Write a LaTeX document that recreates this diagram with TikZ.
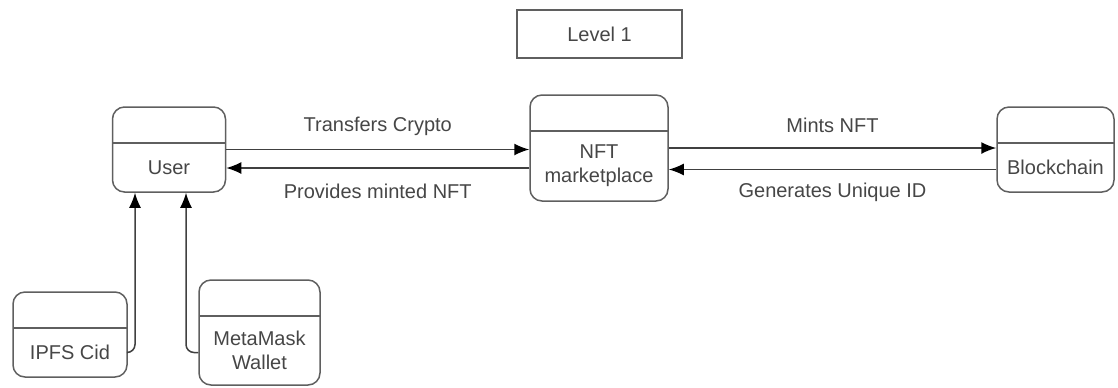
\documentclass[tikz,border=0pt]{standalone}
\usepackage{fontspec}
\setmainfont{Liberation Sans}
\usetikzlibrary{positioning,arrows.meta,calc}
\definecolor{boxgray}{RGB}{95,95,95}
\definecolor{textgray}{RGB}{70,70,70}
\tikzset{
    x=0.5pt,
    y=-0.5pt,
    store/.style = {
        draw=boxgray,
        shape=rectangle,
        rounded corners=6pt,
        minimum height=42.5pt,
        line width=0.75pt,
        path picture={
            \draw[boxgray, line width=0.75pt]
                ([yshift=-18pt]path picture bounding box.north west) --
                ([yshift=-18pt]path picture bounding box.north east);
        },
        label={[text=textgray, align=center, yshift=-9pt]center:#1}
    },
    heading/.style = {
        draw=boxgray,
        shape=rectangle,
        minimum width=82.5pt,
        minimum height=24pt,
        line width=0.8pt,
        text=textgray
    },
    flow/.style = {
        draw=black!75,
        line width=0.75pt,
        -{Latex[length=7.5pt,width=6pt,fill=black,color=black]}
    },
    flowlabel/.style = {
        midway,
        text=textgray
    },
}

\begin{document}
\begin{tikzpicture}
        \useasboundingbox (0,0) rectangle (1118,387);

        \node[heading] (level) at (599.5,34) {Level 1};

        \node[store=User, minimum width=56.5pt] (user) at (169,149.5) {};
        \node[store={NFT\\marketplace}, minimum width=69pt, minimum height=53pt] (market) at (599,148) {};
        \node[store=Blockchain, minimum width=58.5pt] (chain) at (1055.5,149.5) {};
        \node[store=IPFS Cid, minimum width=57pt] (ipfs) at (70,334.5) {};
        \node[store={MetaMask\\Wallet}, minimum width=60.5pt, minimum height=52.5pt] (wallet) at (259.5,332.5) {};

        \path[flow] (user.east) -- (user.east -| market.west)
            node[flowlabel, yshift=11.5pt] {Transfers Crypto};
        \path[flow] ([yshift=-10pt]market.west) -- ([yshift=-10pt]market.west -| user.east)
            node[flowlabel, yshift=-11.5pt] {Provides minted NFT};
        \path[flow] (market.east) -- (market.east -| chain.west)
            node[flowlabel, yshift=11.5pt] {Mints NFT};
        \path[flow] ([yshift=-10pt]chain.west) -- ([yshift=-10pt]chain.west -| market.east)
            node[flowlabel, yshift=-11.5pt] {Generates Unique ID};

        \path[flow, rounded corners=4pt] ([yshift=-9pt]ipfs.east) -| ([xshift=-17pt]user.south);
        \path[flow, rounded corners=4pt] ([yshift=-10pt]wallet.west) -| ([xshift=8.5pt]user.south);
    \end{tikzpicture}
\end{document}
